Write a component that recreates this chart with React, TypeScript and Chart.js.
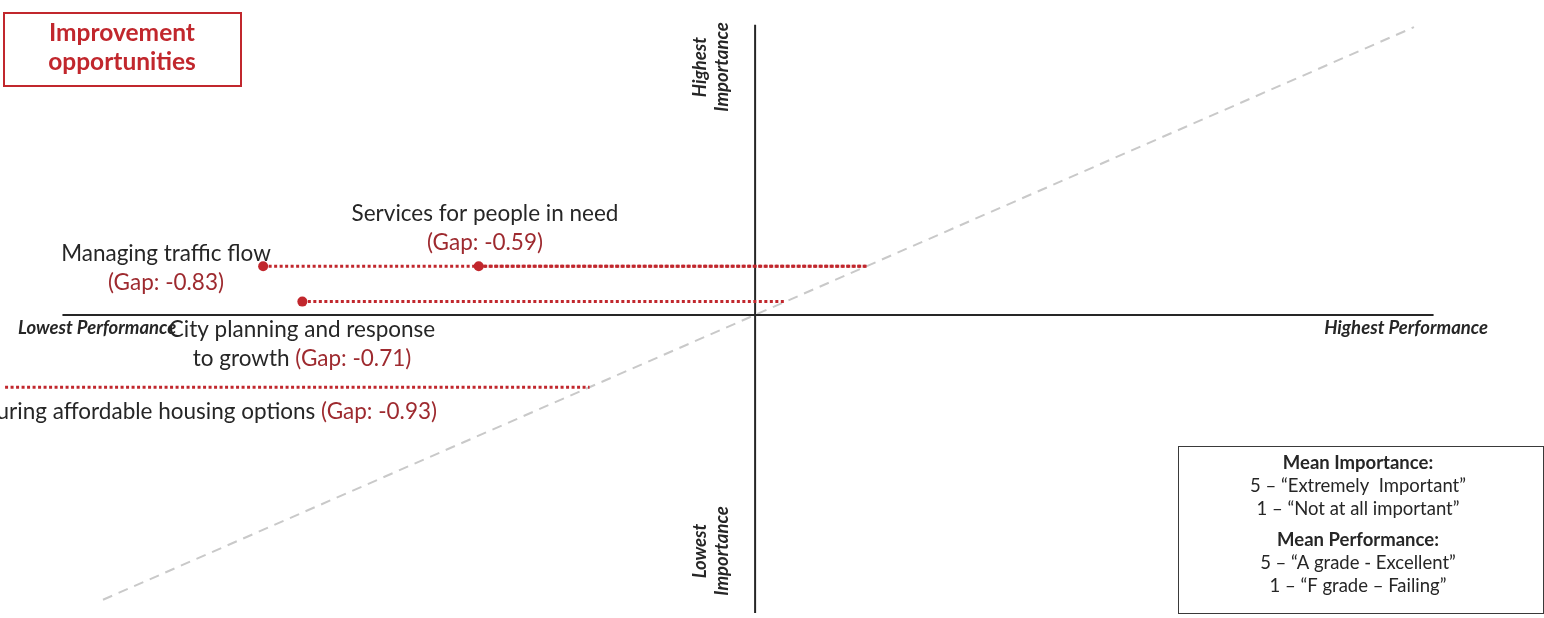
import React, { useEffect, useRef } from "react";
import { Chart, registerables } from "chart.js";

Chart.register(...registerables);

// ---- Data (mean scores, 1-5 scale) ----
const ITEM_NAMES = [
  "Managing traffic flow",
  "Services for people in need",
  "City planning and response to growth",
  "Ensuring affordable housing options",
];
const PERFORMANCE = [2.772, 3.091, 2.83, 2.325];
const IMPORTANCE = [3.665, 3.665, 3.545, 3.255];
const GAP_LABELS = ["(Gap: -0.83)", "(Gap: -0.59)", "(Gap: -0.71)", "(Gap: -0.93)"];

const X_RANGE = [2.39, 4.66];
const Y_RANGE = [2.49, 4.55];
const AXIS_CENTER = 3.5;
const H_AXIS_EXTENT = [2.475, 4.504];
const V_AXIS_EXTENT = [2.49, 4.483];
const PARITY_LINE = [2.535, 4.475];

const AXIS_LABELS = {
  lowPerf: "Lowest Performance",
  highPerf: "Highest Performance",
  highImp: ["Highest", "Importance"],
  lowImp: ["Lowest", "Importance"],
};
const TITLE_LINES = ["Improvement", "opportunities"];
const LEGEND_LINES = [
  { t: "Mean Importance:", bold: true },
  { t: "5 \u2013 \u201cExtremely  Important\u201d", bold: false },
  { t: "1 \u2013 \u201cNot at all important\u201d", bold: false },
  { t: "Mean Performance:", bold: true },
  { t: "5 \u2013 \u201cA grade - Excellent\u201d", bold: false },
  { t: "1 \u2013 \u201cF grade \u2013 Failing\u201d", bold: false },
];

const RED = "#C1272D";
const GAP_RED = "#9E2A2F";
const TEXT = "#262626";
const FONT = "Lato, 'Open Sans', sans-serif";

// label layout (pixel anchors), line segments: [text, colour]
type Seg = [string, string];
const LABEL_LAYOUT: { lines: Seg[][]; x: number; y: number; align: "center" | "right" }[] = [
  { lines: [[["Managing traffic flow", TEXT]], [[GAP_LABELS[0], GAP_RED]]], x: 166, y: 254, align: "center" },
  { lines: [[["Services for people in need", TEXT]], [[GAP_LABELS[1], GAP_RED]]], x: 485, y: 214, align: "center" },
  {
    lines: [[["City planning and response", TEXT]], [["to growth ", TEXT], [GAP_LABELS[2], GAP_RED]]],
    x: 302,
    y: 330,
    align: "center",
  },
  { lines: [[["Ensuring affordable housing options ", TEXT], [GAP_LABELS[3], GAP_RED]]], x: 437, y: 412, align: "right" },
];

const overlayPlugin = {
  id: "overlay",
  afterDatasetsDraw(chart: any) {
    const ctx = chart.ctx as CanvasRenderingContext2D;
    ctx.save();
    ctx.textBaseline = "middle";

    // point labels
    ctx.font = `22.5px ${FONT}`;
    for (const lab of LABEL_LAYOUT) {
      lab.lines.forEach((segs, i) => {
        const y = lab.y + i * 29;
        const total = segs.reduce((s, [t]) => s + ctx.measureText(t).width, 0);
        let x = lab.align === "center" ? lab.x - total / 2 : lab.x - total;
        ctx.textAlign = "left";
        for (const [t, c] of segs) {
          ctx.fillStyle = c;
          ctx.fillText(t, x, y);
          x += ctx.measureText(t).width;
        }
      });
    }

    // axis labels
    ctx.fillStyle = TEXT;
    ctx.font = `italic bold 18.5px ${FONT}`;
    ctx.textAlign = "left";
    ctx.fillText(AXIS_LABELS.lowPerf, 18, 328);
    ctx.textAlign = "right";
    ctx.fillText(AXIS_LABELS.highPerf, 1488, 328);

    const vx = chart.scales.x.getPixelForValue(AXIS_CENTER);
    const drawVert = (lines: string[], cy: number) => {
      ctx.save();
      ctx.translate(vx - 44, cy);
      ctx.rotate(-Math.PI / 2);
      ctx.textAlign = "center";
      ctx.fillText(lines[0], 0, -11);
      ctx.fillText(lines[1], 0, 11);
      ctx.restore();
    };
    drawVert(AXIS_LABELS.highImp, 67);
    drawVert(AXIS_LABELS.lowImp, 551);

    // title box
    ctx.strokeStyle = RED;
    ctx.lineWidth = 2;
    ctx.strokeRect(4, 13, 237, 73);
    ctx.fillStyle = RED;
    ctx.font = `bold 24.5px ${FONT}`;
    ctx.textAlign = "center";
    ctx.fillText(TITLE_LINES[0], 122, 33);
    ctx.fillText(TITLE_LINES[1], 122, 62);

    // legend box
    ctx.strokeStyle = "#3a3a3a";
    ctx.lineWidth = 1;
    ctx.strokeRect(1178.5, 446.5, 365, 167);
    ctx.fillStyle = TEXT;
    const ys = [463, 486, 509, 540, 563, 586];
    LEGEND_LINES.forEach((l, i) => {
      ctx.font = `${l.bold ? "bold " : ""}18.5px ${FONT}`;
      ctx.fillText(l.t, 1358, ys[i]);
    });

    ctx.restore();
  },
};

export default function App() {
  const ref = useRef<HTMLCanvasElement | null>(null);
  useEffect(() => {
    document.body.style.margin = "0";
    const datasets: any[] = [
      {
        data: [
          { x: PARITY_LINE[0], y: PARITY_LINE[0] },
          { x: PARITY_LINE[1], y: PARITY_LINE[1] },
        ],
        borderColor: "#c9c9c9",
        borderWidth: 2,
        borderDash: [10, 7],
        pointRadius: 0,
        showLine: true,
        order: 5,
      },
      {
        data: [
          { x: H_AXIS_EXTENT[0], y: AXIS_CENTER },
          { x: H_AXIS_EXTENT[1], y: AXIS_CENTER },
        ],
        borderColor: "#262626",
        borderWidth: 2,
        pointRadius: 0,
        showLine: true,
        order: 4,
      },
      {
        data: [
          { x: AXIS_CENTER, y: V_AXIS_EXTENT[0] },
          { x: AXIS_CENTER, y: V_AXIS_EXTENT[1] },
        ],
        borderColor: "#262626",
        borderWidth: 2,
        pointRadius: 0,
        showLine: true,
        order: 4,
      },
      ...ITEM_NAMES.map((name, i) => ({
        label: name,
        data: [
          { x: PERFORMANCE[i], y: IMPORTANCE[i] },
          { x: IMPORTANCE[i], y: IMPORTANCE[i] },
        ],
        borderColor: RED,
        borderWidth: 3,
        borderDash: [3, 2.5],
        borderCapStyle: "butt",
        pointRadius: [5, 0],
        pointBackgroundColor: RED,
        pointBorderColor: RED,
        pointBorderWidth: 0,
        showLine: true,
        order: 1,
      })),
    ];
    const chart = new Chart(ref.current as HTMLCanvasElement, {
      type: "scatter",
      data: { datasets },
      options: {
        animation: false,
        responsive: false,
        maintainAspectRatio: false,
        layout: { padding: 0 },
        plugins: { legend: { display: false }, tooltip: { enabled: false } },
        scales: {
          x: { type: "linear", display: false, min: X_RANGE[0], max: X_RANGE[1] },
          y: { type: "linear", display: false, min: Y_RANGE[0], max: Y_RANGE[1] },
        },
      },
      plugins: [overlayPlugin],
    });
    return () => chart.destroy();
  }, []);
  return (
    <div style={{ width: 1544, height: 618, position: "relative" }}>
      <canvas ref={ref} width={1544} height={618} style={{ display: "block" }} />
    </div>
  );
}
